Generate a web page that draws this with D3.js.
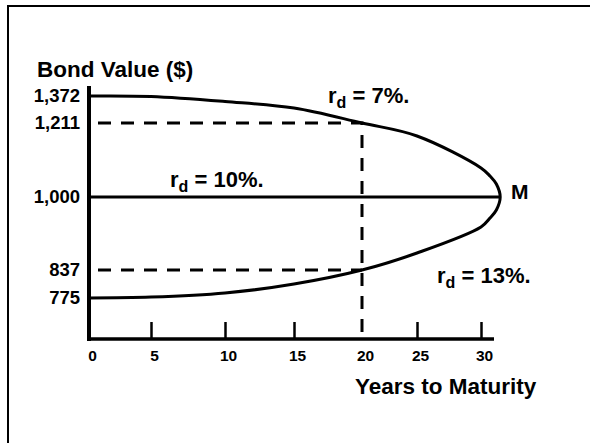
<!DOCTYPE html>
<html>
<head>
<meta charset="utf-8">
<script src="https://cdn.jsdelivr.net/npm/d3@7"></script>
<style>
  body { margin: 0; background: #fff; }
  svg { display: block; font-family: "Liberation Sans", Arial, Helvetica, sans-serif; font-weight: bold; }
</style>
</head>
<body>
<script>
// values; the last years are where both curves close at M
const years = [0, 5, 10, 15, 20, 25, 30, 30.7, 31.2, 31.5];
const rd7 = [1372, 1369, 1339, 1300, 1211, 1174, 1083, 1060, 1037, 1000];
const rd13 = [775, 777, 786, 806, 837, 875, 933, 953, 971, 1000];
const rd10Years = [0, 31.5];
const rd10 = [1000, 1000];
const xTicks = [0, 5, 10, 15, 20, 25, 30];
const yTicks = [775, 837, 1000, 1211, 1372];
const markYear = 20;
const markValues = [1211, 837];

const width = 590, height = 443;
const axisY = 339;

const svg = d3.select("body").append("svg")
  .attr("width", width)
  .attr("height", height);

// the drawing is not to scale, so the scales are piecewise
const x = d3.scaleLinear()
  .domain(xTicks)
  .range([89, 151, 225, 294, 362, 417, 481]);

const y = d3.scaleLinear()
  .domain(yTicks)
  .range([298, 270, 197, 123, 96]);

// frame (only top and left edges fall inside the picture)
svg.append("rect")
  .attr("x", 8).attr("y", 6)
  .attr("width", 700).attr("height", 600)
  .attr("fill", "none").attr("stroke", "#000").attr("stroke-width", 2);

// axes
svg.append("g")
  .attr("transform", `translate(0,${axisY})`)
  .call(d3.axisBottom(x).tickValues(xTicks).tickSizeInner(-17).tickSizeOuter(0).tickPadding(11))
  .call(g => g.select(".domain").remove())
  .call(g => g.attr("font-size", 15.5).attr("font-family", null))
  .call(g => g.selectAll(".tick line")
    .attr("stroke", "#000").attr("stroke-width", 2.5)
    .attr("display", d => (d === 0 || d === markYear) ? "none" : null))
  .call(g => g.selectAll(".tick text").attr("fill", "#000").attr("dx", 3));

svg.append("g")
  .attr("transform", `translate(${x(0)},0)`)
  .call(d3.axisLeft(y).tickValues(yTicks).tickSize(0).tickPadding(9).tickFormat(d3.format(",")))
  .call(g => g.select(".domain").remove())
  .call(g => g.attr("font-size", 18.5).attr("font-family", null))
  .call(g => g.selectAll(".tick text").attr("fill", "#000"));

svg.append("line")
  .attr("x1", x(0)).attr("x2", x(0))
  .attr("y1", 86).attr("y2", axisY + 2)
  .attr("stroke", "#000").attr("stroke-width", 4);

svg.append("line")
  .attr("x1", x(0) - 2).attr("x2", 494)
  .attr("y1", axisY).attr("y2", axisY)
  .attr("stroke", "#000").attr("stroke-width", 3.5);

// dashed guides at year 20
const guide = d3.line();
svg.append("path")
  .attr("d", guide([[x(0), y(markValues[0])], [x(markYear), y(markValues[0])], [x(markYear), axisY]]))
  .attr("fill", "none").attr("stroke", "#000").attr("stroke-width", 3)
  .attr("stroke-dasharray", "13,10").attr("stroke-dashoffset", 14);

svg.append("path")
  .attr("d", guide([[x(0), y(markValues[1])], [x(markYear), y(markValues[1])]]))
  .attr("fill", "none").attr("stroke", "#000").attr("stroke-width", 3)
  .attr("stroke-dasharray", "13,10").attr("stroke-dashoffset", 14);

// bond value curves: 7% runs out to M and returns along 13%
const line = d3.line()
  .x(d => x(d[0]))
  .y(d => y(d[1]))
  .curve(d3.curveCatmullRom.alpha(0.5));

const upper = years.map((t, i) => [t, rd7[i]]);
const lower = years.map((t, i) => [t, rd13[i]]).reverse().slice(1);

svg.append("path")
  .attr("d", line(upper.concat(lower)))
  .attr("fill", "none").attr("stroke", "#000").attr("stroke-width", 3);

svg.append("path")
  .attr("d", d3.line().x(d => x(d[0])).y(d => y(d[1]))(rd10Years.map((t, i) => [t, rd10[i]])))
  .attr("fill", "none").attr("stroke", "#000").attr("stroke-width", 3);

// labels
svg.append("text")
  .attr("x", 37).attr("y", 77)
  .attr("font-size", 22.5)
  .text("Bond Value ($)");

svg.append("text")
  .attr("x", 355).attr("y", 394)
  .attr("font-size", 22.5)
  .text("Years to Maturity");

function rateLabel(px, py, rate) {
  const t = svg.append("text").attr("x", px).attr("y", py).attr("font-size", 22);
  t.append("tspan").text("r");
  t.append("tspan").attr("font-size", 16).attr("dy", 5).text("d");
  t.append("tspan").attr("dy", -5).text(` = ${rate}%.`);
}
rateLabel(328, 103, 7);
rateLabel(170, 187, 10);
rateLabel(437, 283, 13);

svg.append("text")
  .attr("x", 511).attr("y", 199)
  .attr("font-size", 21)
  .text("M");
</script>
</body>
</html>
